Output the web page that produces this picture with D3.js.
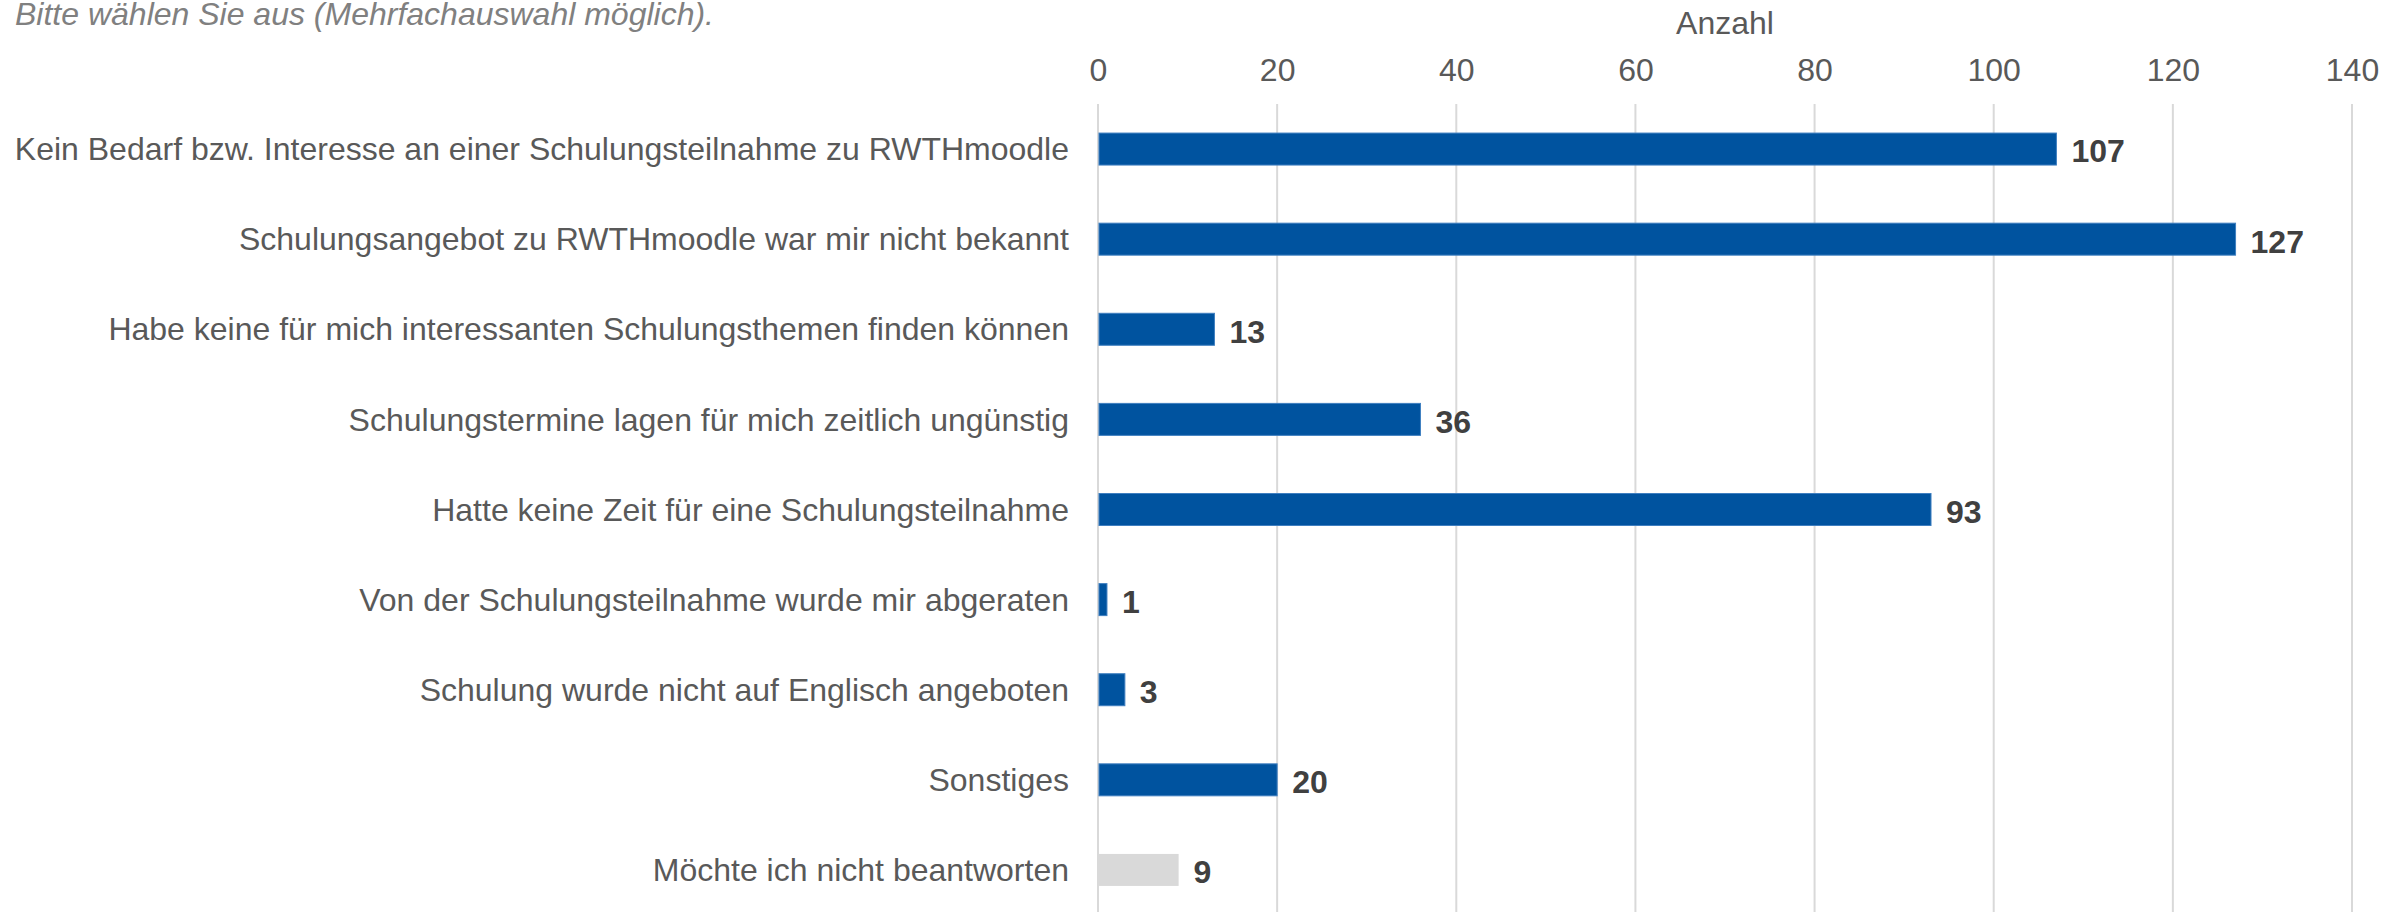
<!DOCTYPE html>
<html>
<head>
<meta charset="utf-8">
<script src="https://cdn.jsdelivr.net/npm/d3@7"></script>
<style>
  body { margin: 0; background: #fff; }
  svg text { font-family: "Liberation Sans", Arial, sans-serif; }
</style>
</head>
<body>
<div id="chart"></div>
<script>
// categories and counts
const categories = [
    "Kein Bedarf bzw. Interesse an einer Schulungsteilnahme zu RWTHmoodle",
    "Schulungsangebot zu RWTHmoodle war mir nicht bekannt",
    "Habe keine für mich interessanten Schulungsthemen finden können",
    "Schulungstermine lagen für mich zeitlich ungünstig",
    "Hatte keine Zeit für eine Schulungsteilnahme",
    "Von der Schulungsteilnahme wurde mir abgeraten",
    "Schulung wurde nicht auf Englisch angeboten",
    "Sonstiges",
    "Möchte ich nicht beantworten"
];
const counts = [107, 127, 13, 36, 93, 1, 3, 20, 9];
const xTicks = [0, 20, 40, 60, 80, 100, 120, 140];

const width = 2407, height = 912;
const subtitle = "Bitte wählen Sie aus (Mehrfachauswahl möglich).";
const axisTitle = "Anzahl";

let data = categories.map((c, i) => ({category: c, count: counts[i]}));

let svg = d3.select("#chart").append("svg")
    .attr("width", width)
    .attr("height", height);

let x = d3.scaleLinear()
    .domain([0, 140])
    .range([1098, 2352]);

let y = d3.scaleBand()
    .domain(categories)
    .range([104, 915])
    .paddingInner(0.645)
    .paddingOuter(0.3225);

// gridlines
svg.append("g")
    .selectAll("line")
    .data(xTicks)
    .enter()
    .append("line")
    .attr("x1", d => x(d))
    .attr("x2", d => x(d))
    .attr("y1", 104)
    .attr("y2", height)
    .attr("stroke", "#d9d9d9")
    .attr("stroke-width", 2);

// top axis labels
let xAxis = d3.axisTop(x)
    .tickValues(xTicks)
    .tickSize(0)
    .tickPadding(0);

let axisG = svg.append("g")
    .attr("transform", "translate(0,81)")
    .call(xAxis);
axisG.select(".domain").remove();
axisG.selectAll("text")
    .attr("dy", 0)
    .attr("font-size", 32)
    .attr("font-family", "Liberation Sans, Arial, sans-serif")
    .attr("fill", "#595959");

svg.append("text")
    .attr("x", (x(0) + x(140)) / 2)
    .attr("y", 34)
    .attr("text-anchor", "middle")
    .attr("font-size", 32)
    .attr("fill", "#595959")
    .text(axisTitle);

svg.append("text")
    .attr("x", 15)
    .attr("y", 25)
    .attr("font-size", 32)
    .attr("font-style", "italic")
    .attr("fill", "#808080")
    .text(subtitle);

// bars
svg.selectAll(".bar")
    .data(data)
    .enter()
    .append("rect")
    .attr("class", "bar")
    .attr("x", x(0) + 1)
    .attr("y", d => y(d.category))
    .attr("width", d => x(d.count) - x(0) - 1)
    .attr("height", y.bandwidth())
    .attr("fill", d => d.category === "Möchte ich nicht beantworten" ? "#d9d9d9" : "#00539f")
    .attr("stroke", d => d.category === "Möchte ich nicht beantworten" ? "none" : "#3f7fc0")
    .attr("stroke-width", 1);

// category labels
svg.selectAll(".cat")
    .data(data)
    .enter()
    .append("text")
    .attr("class", "cat")
    .attr("x", x(0) - 29)
    .attr("y", d => y(d.category) + y.bandwidth() / 2)
    .attr("dy", "0.35em")
    .attr("text-anchor", "end")
    .attr("font-size", 32)
    .attr("fill", "#595959")
    .text(d => d.category);

// value labels
svg.selectAll(".val")
    .data(data)
    .enter()
    .append("text")
    .attr("class", "val")
    .attr("x", d => x(d.count) + 15)
    .attr("y", d => y(d.category) + y.bandwidth() / 2)
    .attr("dy", "0.42em")
    .attr("font-size", 32)
    .attr("font-weight", "bold")
    .attr("fill", "#404040")
    .text(d => d.count);
</script>
</body>
</html>
